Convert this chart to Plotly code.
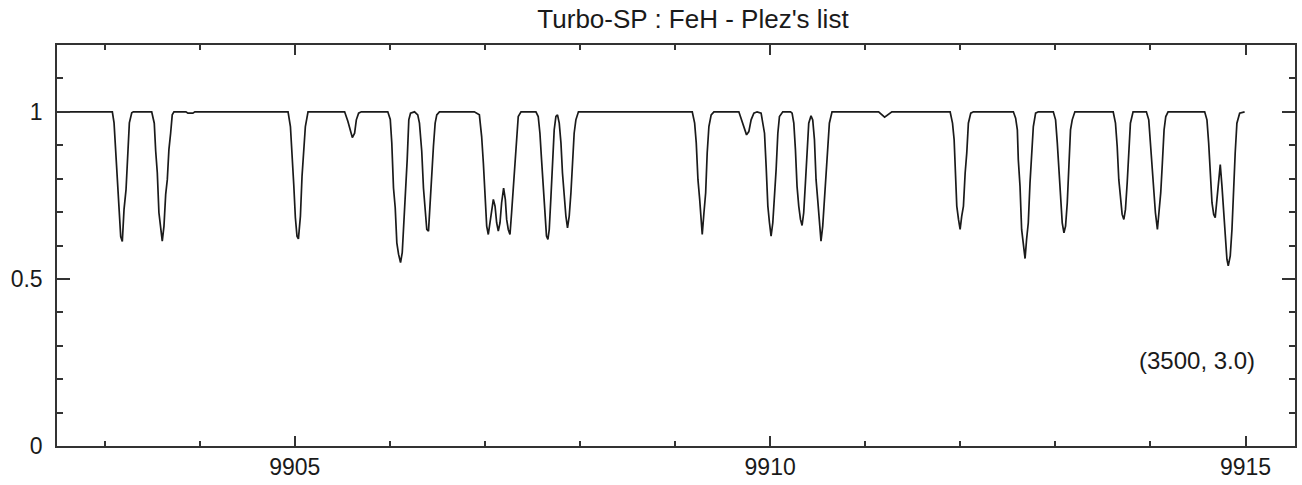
import plotly.graph_objects as go

# Synthetic spectrum readings (wavelength in Angstrom, normalised flux)
wavelength = [
    9902.500,
    9903.082, 9903.100, 9903.118, 9903.135, 9903.153, 9903.170, 9903.187, 9903.205, 9903.226, 9903.244, 9903.261, 9903.286, 9903.303,
    9903.496, 9903.523, 9903.538, 9903.555, 9903.572, 9903.590, 9903.607, 9903.625, 9903.643, 9903.660, 9903.677, 9903.695, 9903.712, 9903.730,
    9903.856, 9903.877, 9903.929, 9903.950,
    9904.930, 9904.955, 9904.972, 9904.990, 9905.007, 9905.024, 9905.039, 9905.060, 9905.077, 9905.094, 9905.112, 9905.140,
    9905.525, 9905.559, 9905.588, 9905.606, 9905.630, 9905.648, 9905.672, 9905.700,
    9905.979, 9906.005, 9906.021, 9906.039, 9906.057, 9906.074, 9906.092, 9906.113, 9906.131, 9906.147, 9906.165, 9906.183, 9906.200, 9906.218,
    9906.260, 9906.294, 9906.312, 9906.336, 9906.354, 9906.372, 9906.389, 9906.407, 9906.424, 9906.441, 9906.459, 9906.477, 9906.494, 9906.522,
    9906.889, 9906.942, 9906.966, 9906.984, 9907.002, 9907.019, 9907.036, 9907.054, 9907.071, 9907.089, 9907.107, 9907.124, 9907.141, 9907.159,
    9907.176, 9907.197, 9907.215, 9907.229, 9907.246, 9907.264, 9907.281, 9907.299, 9907.317, 9907.334, 9907.351, 9907.380,
    9907.537, 9907.561, 9907.579, 9907.596, 9907.614, 9907.632, 9907.648, 9907.663, 9907.677, 9907.695, 9907.711, 9907.729, 9907.747,
    9907.764, 9907.782, 9907.800, 9907.816, 9907.834, 9907.852, 9907.869, 9907.887, 9907.905, 9907.921, 9907.939, 9907.957, 9907.984,
    9909.181, 9909.206, 9909.223, 9909.241, 9909.259, 9909.275, 9909.286, 9909.304, 9909.322, 9909.338, 9909.356, 9909.380, 9909.409,
    9909.671, 9909.695, 9909.724, 9909.752, 9909.776, 9909.800, 9909.829, 9909.863,
    9909.905, 9909.923, 9909.941, 9909.958, 9909.976, 9909.993, 9910.010, 9910.028, 9910.046, 9910.063, 9910.081, 9910.098, 9910.133,
    9910.215, 9910.231, 9910.249, 9910.266, 9910.283, 9910.301, 9910.319, 9910.336, 9910.353, 9910.371, 9910.388, 9910.406, 9910.430,
    9910.448, 9910.466, 9910.483, 9910.500, 9910.518, 9910.535, 9910.553, 9910.571, 9910.588, 9910.605, 9910.623, 9910.651,
    9911.141, 9911.204, 9911.280,
    9911.893, 9911.918, 9911.935, 9911.946, 9911.963, 9911.981, 9911.998, 9912.015, 9912.033, 9912.051, 9912.068, 9912.085, 9912.110, 9912.138,
    9912.558, 9912.582, 9912.600, 9912.610, 9912.628, 9912.645, 9912.663, 9912.681, 9912.697, 9912.715, 9912.733, 9912.750, 9912.768, 9912.792, 9912.820,
    9912.978, 9913.002, 9913.020, 9913.038, 9913.054, 9913.072, 9913.090, 9913.107, 9913.125, 9913.143, 9913.159, 9913.177, 9913.205,
    9913.608, 9913.632, 9913.650, 9913.667, 9913.684, 9913.702, 9913.720, 9913.737, 9913.755, 9913.772, 9913.789, 9913.817,
    9913.957, 9913.982, 9913.999, 9914.017, 9914.035, 9914.052, 9914.073, 9914.090, 9914.108, 9914.125, 9914.143, 9914.161, 9914.185,
    9914.570, 9914.594, 9914.612, 9914.629, 9914.647, 9914.665, 9914.681, 9914.699, 9914.717, 9914.734, 9914.752, 9914.769, 9914.786,
    9914.804, 9914.818, 9914.839, 9914.857, 9914.875, 9914.891, 9914.909, 9914.938, 9914.990,
]

flux = [
    1.000,
    1.000, 0.967, 0.881, 0.812, 0.693, 0.627, 0.612, 0.708, 0.767, 0.887, 0.967, 0.997, 1.000,
    1.000, 0.966, 0.882, 0.817, 0.698, 0.658, 0.613, 0.658, 0.753, 0.797, 0.887, 0.936, 0.991, 1.000,
    1.000, 0.996, 0.996, 1.000,
    1.000, 0.956, 0.847, 0.782, 0.683, 0.628, 0.620, 0.688, 0.807, 0.887, 0.956, 1.000,
    1.000, 0.972, 0.936, 0.923, 0.936, 0.976, 0.996, 1.000,
    1.000, 0.977, 0.907, 0.772, 0.713, 0.608, 0.574, 0.549, 0.579, 0.658, 0.747, 0.857, 0.976, 0.996,
    1.000, 0.991, 0.966, 0.882, 0.772, 0.718, 0.648, 0.643, 0.738, 0.797, 0.897, 0.966, 0.991, 1.000,
    1.000, 0.991, 0.926, 0.847, 0.747, 0.658, 0.633, 0.668, 0.708, 0.738, 0.718, 0.668, 0.643, 0.668,
    0.728, 0.772, 0.738, 0.678, 0.648, 0.633, 0.698, 0.772, 0.867, 0.936, 0.986, 1.000,
    1.000, 0.986, 0.936, 0.857, 0.787, 0.708, 0.628, 0.618, 0.648, 0.747, 0.857, 0.946, 0.986,
    0.991, 0.966, 0.907, 0.817, 0.738, 0.688, 0.653, 0.688, 0.758, 0.857, 0.936, 0.976, 1.000,
    1.000, 0.966, 0.907, 0.797, 0.738, 0.658, 0.633, 0.698, 0.758, 0.877, 0.956, 0.991, 1.000,
    1.000, 0.981, 0.956, 0.931, 0.941, 0.976, 0.996, 1.000,
    0.996, 0.966, 0.936, 0.837, 0.718, 0.668, 0.628, 0.668, 0.738, 0.827, 0.936, 0.986, 1.000,
    1.000, 0.996, 0.966, 0.887, 0.777, 0.718, 0.678, 0.660, 0.698, 0.787, 0.887, 0.966, 0.988,
    0.976, 0.917, 0.797, 0.738, 0.658, 0.613, 0.658, 0.738, 0.817, 0.907, 0.966, 1.000,
    1.000, 0.984, 1.000,
    1.000, 0.966, 0.917, 0.827, 0.718, 0.678, 0.648, 0.688, 0.718, 0.817, 0.877, 0.966, 0.996, 1.000,
    1.000, 0.981, 0.946, 0.857, 0.777, 0.648, 0.598, 0.561, 0.618, 0.668, 0.787, 0.887, 0.956, 0.996, 1.000,
    1.000, 0.976, 0.907, 0.817, 0.747, 0.668, 0.638, 0.658, 0.728, 0.837, 0.946, 0.976, 1.000,
    1.000, 0.966, 0.897, 0.797, 0.747, 0.693, 0.678, 0.708, 0.787, 0.887, 0.966, 1.000,
    1.000, 0.976, 0.907, 0.837, 0.738, 0.698, 0.648, 0.698, 0.758, 0.847, 0.946, 0.986, 1.000,
    1.000, 0.976, 0.907, 0.817, 0.728, 0.693, 0.683, 0.738, 0.797, 0.842, 0.777, 0.708, 0.618,
    0.559, 0.539, 0.569, 0.648, 0.797, 0.877, 0.966, 0.996, 1.000,
]

x_ticks = [9905, 9910, 9915]
x_labels = ["9905", "9910", "9915"]
y_ticks = [0, 0.5, 1]
y_labels = ["0", "0.5", "1"]
title_text = "Turbo-SP : FeH - Plez's list"
note_text = "(3500, 3.0)"

FONT = "Liberation Sans, Arial, sans-serif"
AX = "#333333"
TXT = "#1a1a1a"

fig = go.Figure(
    go.Scatter(
        x=wavelength, y=flux, mode="lines",
        line=dict(color="#1a1a1a", width=1.7),
        hoverinfo="skip", showlegend=False,
    )
)

fig.update_layout(
    width=1302, height=485,
    margin=dict(l=57, r=5, t=45, b=37),
    paper_bgcolor="white", plot_bgcolor="white",
    title=dict(text=title_text, x=693 / 1302, xanchor="center",
               y=1 - 19 / 485, yanchor="middle",
               font=dict(family=FONT, size=26, color=TXT)),
    font=dict(family=FONT, size=23, color=TXT),
)

fig.update_xaxes(
    range=[9902.5, 9915.52],
    tickmode="array", tickvals=x_ticks, ticktext=x_labels,
    ticks="inside", ticklen=10, tickwidth=1.5, tickcolor=AX,
    showline=True, linecolor=AX, linewidth=1.5, mirror="ticks",
    showgrid=False, zeroline=False,
    tickfont=dict(family=FONT, size=23, color=TXT),
    minor=dict(dtick=1, tick0=0, ticks="inside", ticklen=5, tickwidth=1.5,
               tickcolor=AX, showgrid=False),
)
fig.update_yaxes(
    range=[0, 1.2],
    tickmode="array", tickvals=y_ticks, ticktext=y_labels,
    ticks="inside", ticklen=13, tickwidth=1.5, tickcolor=AX,
    showline=True, linecolor=AX, linewidth=1.5, mirror="ticks",
    showgrid=False, zeroline=False, ticklabelstandoff=8,
    tickfont=dict(family=FONT, size=23, color=TXT),
    minor=dict(dtick=0.1, tick0=0, ticks="inside", ticklen=6, tickwidth=1.5,
               tickcolor=AX, showgrid=False),
)

fig.add_annotation(
    x=9915.12, y=0.256, xref="x", yref="y",
    text=note_text, showarrow=False,
    xanchor="right", yanchor="middle",
    font=dict(family=FONT, size=24, color=TXT),
)

fig.write_html("out.html", config={"displayModeBar": False},
               post_script="document.body.style.margin='0';")
